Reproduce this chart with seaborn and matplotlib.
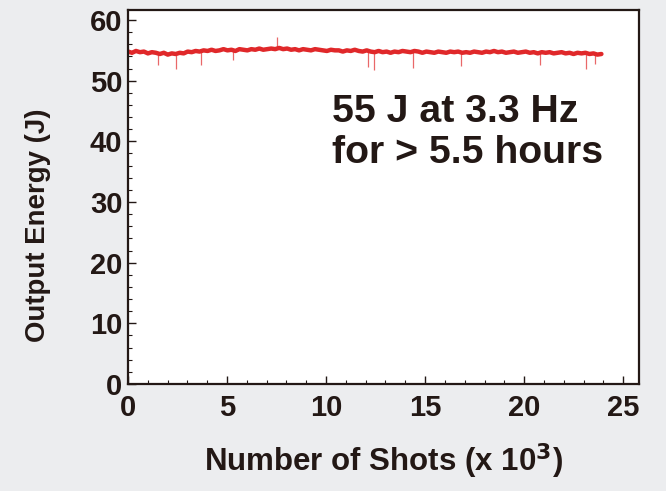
import numpy as np
import pandas as pd
import matplotlib
matplotlib.use("Agg")
import matplotlib.pyplot as plt
import seaborn as sns
from matplotlib.ticker import MultipleLocator

# Output energy trace (J), evenly spaced over 0..23.9 k shots
energy = [
    54.8, 54.6, 54.9, 54.7, 54.8, 54.5, 54.7, 54.6, 54.4, 54.6,
    54.3, 54.5, 54.4, 54.6, 54.5, 54.8, 54.7, 54.9, 54.8, 55.0,
    54.9, 55.1, 54.9, 55.0, 55.2, 55.0, 55.1, 54.9, 55.2, 55.1,
    55.0, 55.2, 55.1, 55.3, 55.1, 55.2, 55.3, 55.2, 55.4, 55.2,
    55.3, 55.1, 55.2, 55.0, 55.2, 55.1, 55.0, 55.2, 55.1, 55.0,
    54.9, 55.1, 55.0, 55.0, 54.8, 55.0, 54.9, 55.1, 54.9, 54.8,
    55.0, 54.8, 54.7, 54.9, 54.7, 54.8, 54.6, 54.8, 54.7, 54.9,
    54.8, 54.7, 54.9, 54.8, 54.6, 54.8, 54.7, 54.6, 54.8, 54.7,
    54.6, 54.8, 54.7, 54.8, 54.6, 54.7, 54.6, 54.8, 54.7, 54.6,
    54.8, 54.7, 54.9, 54.7, 54.8, 54.6, 54.7, 54.8, 54.6, 54.7,
    54.8, 54.6, 54.7, 54.5, 54.7, 54.6, 54.7, 54.5, 54.6, 54.7,
    54.5, 54.6, 54.4, 54.6, 54.5, 54.6, 54.4, 54.5, 54.3, 54.4,
]
shot_end = 23.9

# Occasional single-shot excursions
spike_x = [1.5, 2.4, 3.7, 5.3, 7.5, 12.1, 12.4, 14.4, 16.8, 20.8, 23.1, 23.6]
spike_base = [54.6, 54.4, 54.7, 55.0, 55.3, 54.9, 54.9, 54.8, 54.7, 54.7, 54.5, 54.4]
spike_y = [52.6, 52.0, 52.6, 53.4, 57.2, 52.3, 51.8, 52.1, 52.4, 52.6, 52.0, 52.8]

x_ticks = [0, 5, 10, 15, 20, 25]
y_ticks = [0, 10, 20, 30, 40, 50, 60]

df = pd.DataFrame({"shots": np.linspace(0, shot_end, len(energy)), "energy": energy})

sns.set_theme(style="white")
plt.rcParams["font.family"] = ["Liberation Sans", "DejaVu Sans"]
plt.rcParams["font.weight"] = "bold"

ink = "#231815"
red = "#E0282A"

fig = plt.figure(figsize=(6.66, 4.91), dpi=100, facecolor="#ECEDEF")
ax = fig.add_axes([0.1922, 0.2179, 0.9595 - 0.1922, 0.9796 - 0.2179])
ax.set_facecolor("white")

sns.lineplot(data=df, x="shots", y="energy", ax=ax, color=red, linewidth=3.2)
ax.vlines(spike_x, spike_base, spike_y, color=red, linewidth=0.9, alpha=0.7)

ax.set_xlim(0, 25.8)
ax.set_ylim(0, 61.65)
ax.set_xticks(x_ticks)
ax.set_yticks(y_ticks)
ax.xaxis.set_minor_locator(MultipleLocator(1))
ax.yaxis.set_minor_locator(MultipleLocator(2))
ax.tick_params(axis="both", which="both", direction="in", colors=ink,
               bottom=True, left=True, top=False, right=False)
ax.tick_params(axis="both", which="major", length=6, width=1.0, labelsize=21)
ax.tick_params(axis="both", which="minor", length=3, width=0.8)
ax.tick_params(axis="x", which="major", pad=7)
ax.tick_params(axis="y", which="major", pad=4)
for lab in ax.get_xticklabels() + ax.get_yticklabels():
    lab.set_fontweight("bold")
    lab.set_color(ink)

for s in ax.spines.values():
    s.set_visible(True)
    s.set_color(ink)
    s.set_linewidth(1.6)

ax.set_xlabel("Number of Shots (x 10$^\\mathbf{3}$)", fontsize=22.5, fontweight="bold",
              color=ink, labelpad=14)
ax.set_ylabel("Output Energy (J)", fontsize=19.9, fontweight="bold", color=ink)
ax.yaxis.set_label_coords(-0.150, 0.425)

ax.text(0.40, 0.672, "55 J at 3.3 Hz\nfor > 5.5 hours", transform=ax.transAxes,
        fontsize=28.3, fontweight="bold", color=ink, ha="left", va="center",
        linespacing=1.17)

fig.savefig("out.png", dpi=100, facecolor=fig.get_facecolor())
